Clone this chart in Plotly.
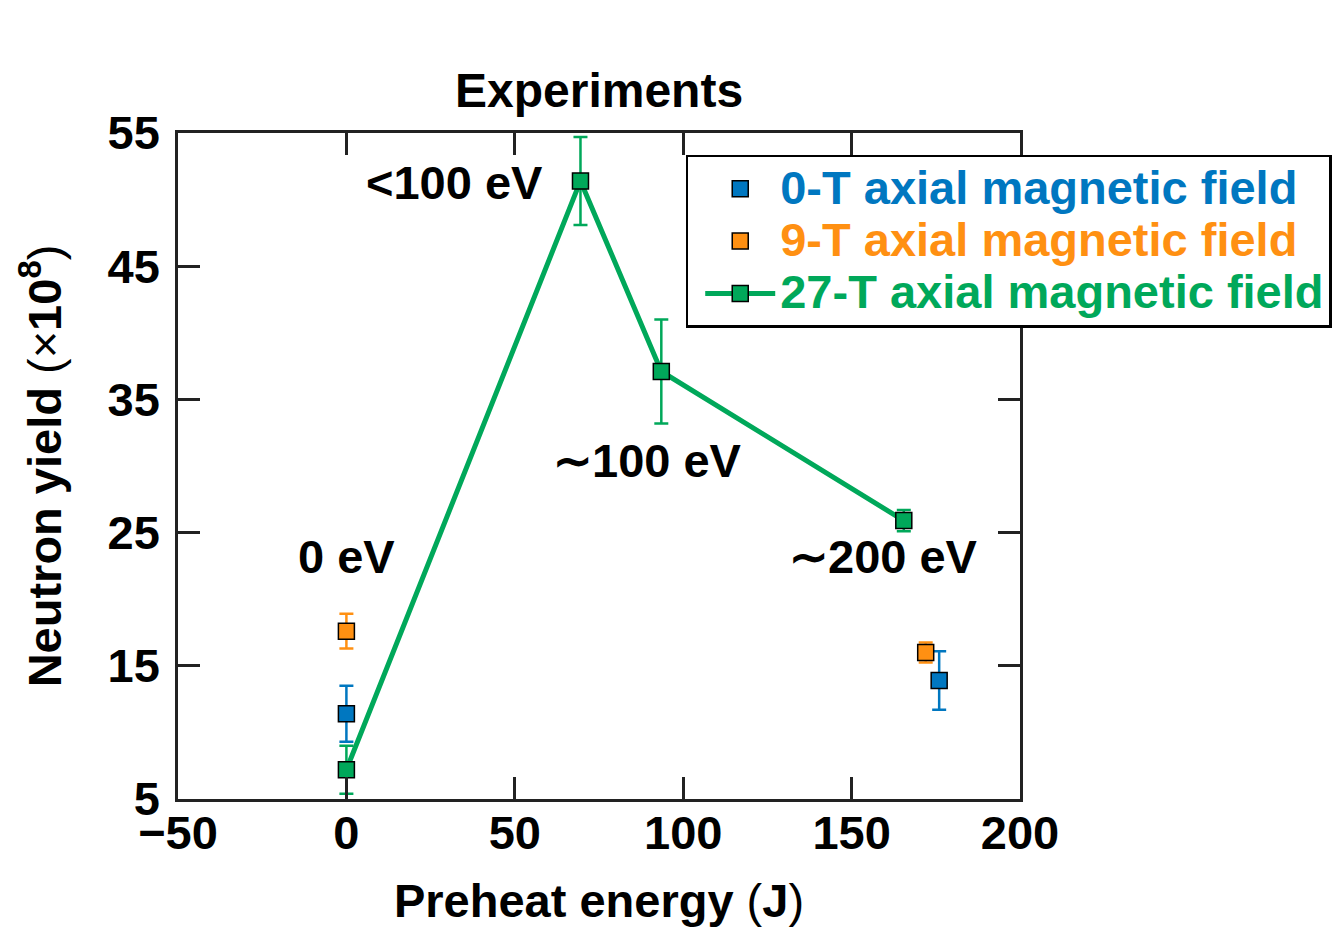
import plotly.graph_objects as go

# Data
t0_x = [0, 176]
t0_y = [11.4, 13.9]
t0_err = [2.1, 2.2]

t9_x = [0, 172]
t9_y = [17.6, 16.0]
t9_err = [1.3, 0.75]

t27_x = [0, 69.5, 93.5, 165.5]
t27_y = [7.2, 51.4, 37.1, 25.9]
t27_err = [1.8, 3.3, 3.9, 0.8]

labels = ["&lt;100 eV", "∼100 eV", "0 eV", "∼200 eV"]
label_x = [32, 89.5, 0, 159.5]
label_y = [51.3, 30.4, 23.2, 23.2]

BLUE = "#0077c0"
ORANGE = "#ff9012"
GREEN = "#00a85a"
FONT = "Liberation Sans"
FS = 47

fig = go.Figure()

def add(x, y, err, color, name, mode):
    fig.add_trace(go.Scatter(
        x=x, y=y, mode=mode,
        name=f"<span style='color:{color};font-size:{FS}px'>{name}</span>",
        line=dict(color=color, width=5),
        marker=dict(symbol="square", size=16, color=color,
                    line=dict(color="black", width=1.5)),
        error_y=dict(type="data", array=err, visible=True,
                     color=color, thickness=2.5, width=7),
    ))

add(t0_x, t0_y, t0_err, BLUE, "0-T axial magnetic field", "markers")
add(t9_x, t9_y, t9_err, ORANGE, "9-T axial magnetic field", "markers")
add(t27_x, t27_y, t27_err, GREEN, "27-T axial magnetic field", "lines+markers")

for t, x, y in zip(labels, label_x, label_y):
    fig.add_annotation(x=x, y=y, text=t, showarrow=False,
                       font=dict(family=FONT, size=FS, color="black", weight="bold"),
                       xanchor="center", yanchor="middle")

fig.add_annotation(x=0.5, y=1.0, xref="paper", yref="paper", yshift=43,
                   text="Experiments", showarrow=False,
                   font=dict(family=FONT, size=48, color="black", weight="bold"),
                   xanchor="center", yanchor="middle")

axis_common = dict(
    showline=True, linecolor="#222222", linewidth=2.5, mirror="ticks",
    ticks="inside", ticklen=22, tickwidth=2.5, tickcolor="#222222",
    showgrid=False, zeroline=False,
    tickfont=dict(family=FONT, size=FS, color="black", weight="bold"),
)

THIN = "<span style='font-weight:normal'>"

fig.update_xaxes(range=[-50, 200], tickvals=[-50, 0, 50, 100, 150, 200],
                 title=dict(text=f"Preheat energy {THIN}(</span>J{THIN})</span>", standoff=26,
                            font=dict(family=FONT, size=FS, color="black", weight="bold")),
                 ticklabelstandoff=-9,
                 **axis_common)
fig.update_yaxes(range=[5, 55], tickvals=[5, 15, 25, 35, 45, 55],
                 title=dict(text=f"Neutron yield {THIN}(×</span>10<sup>8</sup>{THIN})</span>",
                            standoff=32,
                            font=dict(family=FONT, size=FS, color="black", weight="bold")),
                 ticklabelstandoff=6,
                 **axis_common)

fig.update_layout(
    width=1343, height=934,
    margin=dict(l=170, r=331, t=125, b=143, autoexpand=False),
    paper_bgcolor="white", plot_bgcolor="white",
    showlegend=True,
    legend=dict(x=0.603, y=0.967, xanchor="left", yanchor="top",
                bgcolor="white", bordercolor="black", borderwidth=2.5,
                font=dict(family=FONT, size=38, weight="bold"),
                itemwidth=70, indentation=12, tracegroupgap=0),
)

fig.write_html("out.html")
